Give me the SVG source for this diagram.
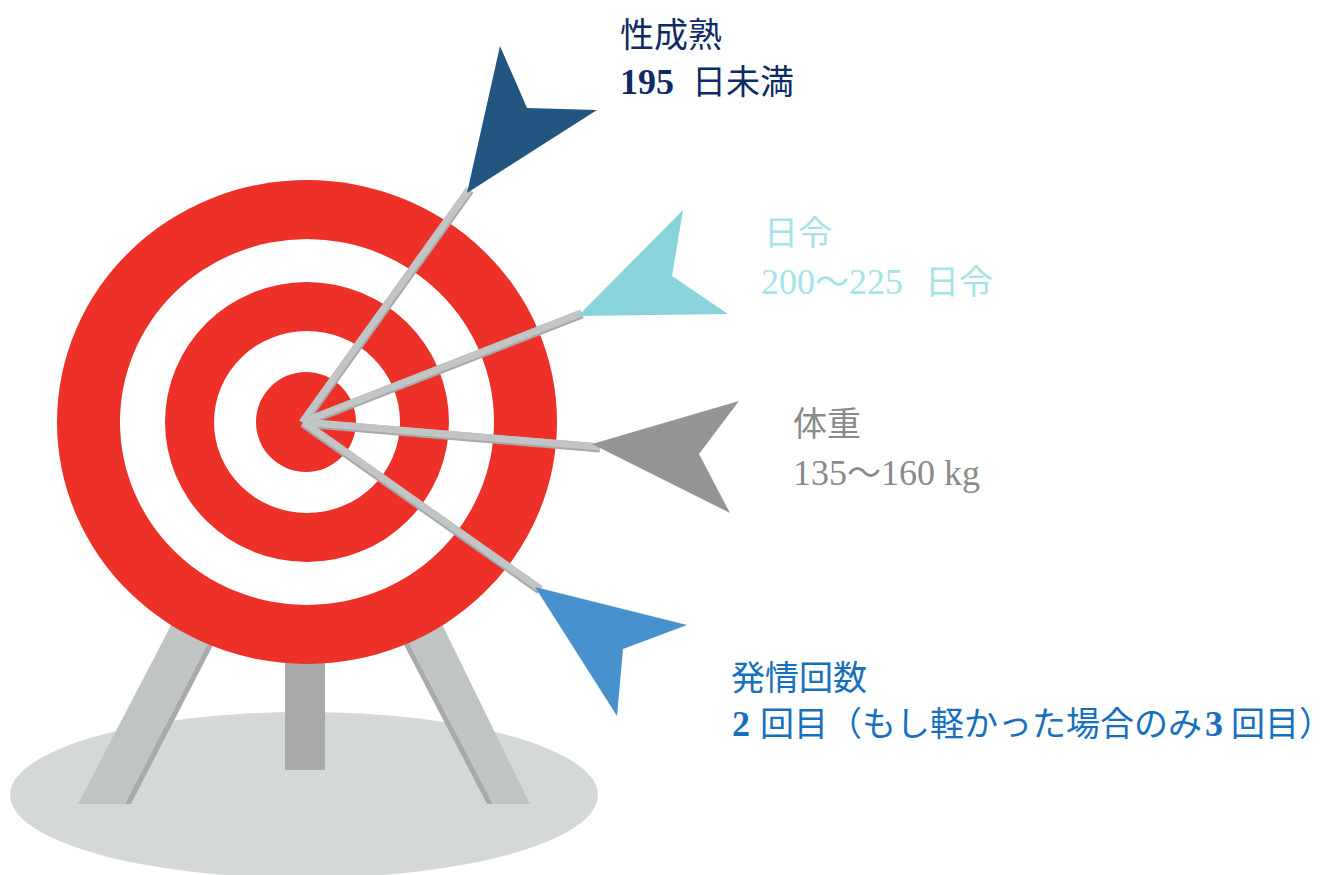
<svg xmlns="http://www.w3.org/2000/svg" width="1334" height="875" viewBox="0 0 1334 875">
  <style>
    .ring-red { fill: #ee3128; }
    .ring-white { fill: #ffffff; }
    .leg { fill: #c0c4c5; }
    .leg-dark { fill: #a9aaac; }
    .shaft-dark { stroke: #a7a9ab; stroke-width: 9; fill: none; }
    .shaft-light { stroke: #c1c5c6; stroke-width: 7; fill: none; }
    .label { font-family: "Noto Sans CJK JP", sans-serif; font-size: 34px; }
    .num { font-family: "Liberation Serif", "Noto Sans CJK JP", serif; font-size: 36px; }
    .cjk { font-family: "Noto Sans CJK JP", sans-serif; font-size: 34px; }
    .b { font-weight: bold; }
  </style>

  <!-- ground shadow -->
  <ellipse cx="304" cy="795" rx="294" ry="83" fill="#d5d8d9"/>

  <!-- stand -->
  <g id="stand">
    <rect x="285" y="600" width="40" height="170" fill="#a9a9ab"/>
    <polygon class="leg" points="78,804 125,804 224,612 178,612"/>
    <polygon class="leg-dark" points="125,804 131,804 230,612 224,612"/>
    <polygon class="leg-dark" points="487,804 493,804 393,612 387,612"/>
    <polygon class="leg" points="493,804 530,804 436,612 393,612"/>
  </g>

  <!-- target face -->
  <g id="target">
    <ellipse class="ring-red" cx="307" cy="422" rx="250" ry="242"/>
    <ellipse class="ring-white" cx="307" cy="422" rx="187" ry="183"/>
    <ellipse class="ring-red" cx="307" cy="422" rx="142" ry="140"/>
    <ellipse class="ring-white" cx="307" cy="422" rx="93" ry="91"/>
    <ellipse class="ring-red" cx="306" cy="422" rx="50" ry="50"/>
  </g>

  <!-- arrow shafts -->
  <g id="connectors">
    <line class="shaft-dark" x1="303" y1="423" x2="470" y2="190"/>
    <line class="shaft-light" x1="302.2" y1="422.4" x2="469.2" y2="189.4"/>
    <line class="shaft-dark" x1="303" y1="423" x2="582" y2="314"/>
    <line class="shaft-light" x1="302.6" y1="422.1" x2="581.6" y2="313.1"/>
    <line class="shaft-dark" x1="303" y1="423" x2="600" y2="448"/>
    <line class="shaft-light" x1="303.1" y1="422" x2="600.1" y2="447"/>
    <line class="shaft-dark" x1="303" y1="423" x2="540" y2="590"/>
    <line class="shaft-light" x1="303.6" y1="422.2" x2="540.6" y2="589.2"/>
  </g>

  <!-- sexual maturity -->
  <g id="maturity">
    <polygon points="467,193 500,46 527,108 597,110" fill="#22557f"/>
    <text class="label" x="620" y="47" fill="#0e2b66">性成熟</text>
    <text class="label" y="94" fill="#0e2b66"><tspan class="num b" x="620">195</tspan><tspan class="cjk" x="692">日未満</tspan></text>
  </g>

  <!-- age in days -->
  <g id="age">
    <polygon points="578,316 683,210 672,276 728,314" fill="#89d4db"/>
    <text class="label" x="764" y="245" fill="#a6e3e9">日令</text>
    <text class="label" y="294" fill="#a6e3e9"><tspan class="num" x="761">200</tspan><tspan class="cjk">～</tspan><tspan class="num">225</tspan><tspan class="cjk" x="925">日令</tspan></text>
  </g>

  <!-- body weight -->
  <g id="weight">
    <polygon points="592,444 739,401 699,454 730,513" fill="#949597"/>
    <text class="label" x="793" y="436" fill="#8a8a8a">体重</text>
    <text class="label" y="485" fill="#8a8a8a"><tspan class="num" x="793">135</tspan><tspan class="cjk">～</tspan><tspan class="num">160 kg</tspan></text>
  </g>

  <!-- estrus count -->
  <g id="estrus">
    <polygon points="535,587 687,625 623,649 617,716" fill="#4792ce"/>
    <text class="label" x="731" y="690" fill="#1670be">発情回数</text>
    <text class="label" y="736" fill="#1670be"><tspan class="num b" x="732">2</tspan><tspan class="cjk" x="760">回目（もし軽かった場合のみ</tspan><tspan class="num b" x="1205">3</tspan><tspan class="cjk" x="1231">回目</tspan><tspan class="cjk" x="1299">）</tspan></text>
  </g>
</svg>
